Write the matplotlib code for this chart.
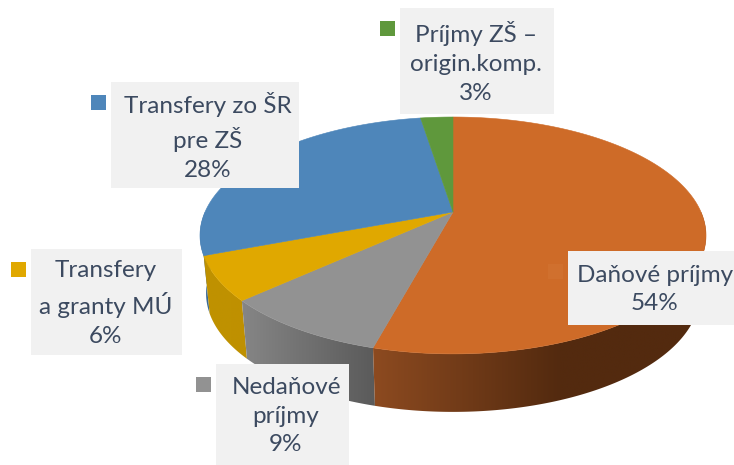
import numpy as np
import matplotlib
matplotlib.use("Agg")
import matplotlib.pyplot as plt
from matplotlib.colors import to_rgb
from matplotlib.patches import Rectangle, Polygon

# --- data (clockwise from 12 o'clock) ---
categories = ["Daňové príjmy", "Nedaňové\npríjmy", "Transfery\na granty MÚ",
              "Transfery zo ŠR\npre ZŠ", "Príjmy ZŠ –\norigin.komp."]
values = [54.2, 9.0, 6.0, 28.3, 2.5]
value_labels = ["54%", "9%", "6%", "28%", "3%"]

# --- styles ---
top_colors = ["#CE6B28", "#929292", "#E0A800", "#4E86BA", "#5F983C"]
wall_left = ["#8C4A20", "#868686", "#BF9200", "#3A6A96", "#4A7A30"]
wall_right = ["#532A0F", "#5A5A5A", "#BF9000", "#3A6A96", "#4A7A30"]
swatch_colors = ["#D0702E", "#929292", "#E0A800", "#4E86BA", "#5F983C"]
text_color = "#3C4A60"
box_color = "#F1F1F1"

boxes = [(568, 251, 734, 325), (216, 364, 349, 465), (31, 249, 182, 355),
         (111, 82, 299, 188), (400, 8, 554, 114)]
text_x = [655, 286, 106, 207.5, 476]
gradient_spans = [(375, 560), (241, 375), (200, 260), (200, 260), (200, 260)]

CX, CY, RX, RY, K = 453.0, 212.0, 248.0, 113.8, 0.198
DEPTH, SHRINK = 58.0, 0.976


def project(theta, bottom=False):
    sx, sy = np.sin(theta), np.cos(theta)
    den = 1 + K * sy
    u, v = sx / den, sy / den
    if bottom:
        return CX + SHRINK * RX * u, CY - RY * v + DEPTH
    return CX + RX * u, CY - RY * v


fig = plt.figure(figsize=(7.34, 4.65), dpi=100)
ax = fig.add_axes([0, 0, 1, 1])

edges = np.cumsum([0.0] + values) / sum(values) * 2 * np.pi

# side walls: only the front half, back slices first, each a horizontal gradient
for i in reversed(range(len(values))):
    lo, hi = max(edges[i], np.pi / 2), min(edges[i + 1], 3 * np.pi / 2)
    if hi <= lo:
        continue
    th = np.linspace(lo, hi, 200)
    tx, ty = project(th)
    bx, by = project(th, True)
    pts = np.column_stack([np.r_[tx, bx[::-1]], np.r_[ty, by[::-1]]])
    poly = Polygon(pts, closed=True, facecolor="none", edgecolor="none", transform=ax.transData)
    ax.add_patch(poly)
    x0, x1 = pts[:, 0].min() - 1, pts[:, 0].max() + 1
    y0, y1 = pts[:, 1].min() - 1, pts[:, 1].max() + 1
    xs = np.linspace(x0, x1, 400)
    t = np.clip((xs - gradient_spans[i][0]) / (gradient_spans[i][1] - gradient_spans[i][0]), 0, 1)[:, None]
    img = (1 - t) * np.array(to_rgb(wall_left[i])) + t * np.array(to_rgb(wall_right[i]))
    im = ax.imshow(img[None, :, :], extent=(x0, x1, y1, y0), aspect="auto", zorder=1, interpolation="bilinear")
    im.set_clip_path(poly)

# top surface
for i in range(len(values)):
    th = np.linspace(edges[i], edges[i + 1], 200)
    x, y = project(th)
    pts = np.column_stack([np.r_[CX, x], np.r_[CY, y]])
    ax.add_patch(Polygon(pts, closed=True, facecolor=top_colors[i], edgecolor=top_colors[i],
                         lw=0.4, zorder=2))

# labels
for i, (x0, y0, x1, y1) in enumerate(boxes):
    ax.add_patch(Rectangle((x0, y0), x1 - x0, y1 - y0, facecolor=box_color, edgecolor="none", zorder=3))
    ax.add_patch(Rectangle((x0 - 20, y0 + 13), 15, 15, facecolor=swatch_colors[i], edgecolor="none", zorder=3))
    ax.text(text_x[i], (y0 + y1) / 2 + 1.5, categories[i] + "\n" + value_labels[i], ha="center", va="center",
            ma="center", fontsize=17.5, family="Lato", color=text_color, linespacing=1.47, zorder=4)

ax.set_xlim(0, 734)
ax.set_ylim(465, 0)
ax.axis("off")
fig.savefig("out.png", dpi=100, facecolor="white")
